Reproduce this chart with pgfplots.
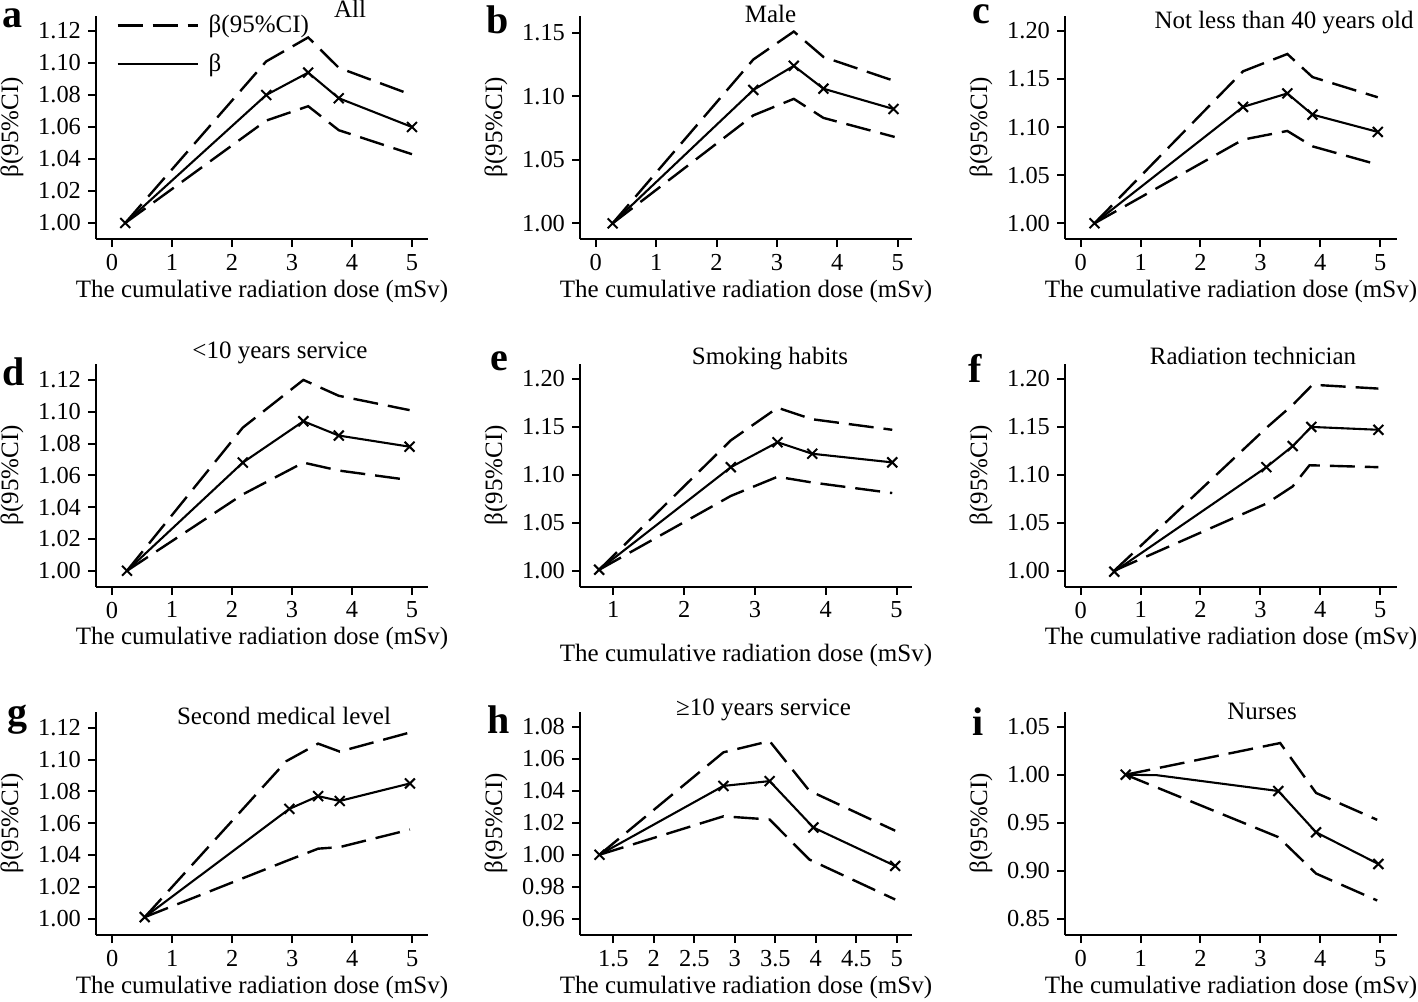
\documentclass[border=0pt]{standalone}
\usepackage{fontspec}
\setmainfont{Liberation Serif}
\usepackage{pgfplots}
\pgfplotsset{compat=1.18}

\pgfplotsset{
  panel/.style={
    width=166pt, height=111.6pt, scale only axis,
    anchor=south west,
    axis x line=bottom, axis y line=left,
    axis line style={-, line width=1pt},
    tick align=outside, major tick length=4pt,
    tick style={black, line width=1pt},
    tick label style={font=\fontsize{12.2}{14}\selectfont},
    /pgf/number format/assume math mode=true,
    yticklabel={\pgfmathprintnumber[fixed,fixed zerofill,precision=2]{\tick}},
    label style={font=\fontsize{12.5}{15}\selectfont},
    xlabel={The cumulative radiation dose (mSv)},
    ylabel={β(95\%CI)},
    xlabel style={at={(axis description cs:0.5,-0.233)}, anchor=center},
    ylabel style={at={(axis description cs:-0.253,0.5)}, anchor=center},
    clip=false,
  },
  ci/.style={black, line width=1.2pt, dash pattern=on 12.5pt off 5pt, mark=none},
  est/.style={black, line width=1.05pt, mark=x, mark size=3.5pt, mark options={solid, line width=1pt}},
}

\begin{document}
\begin{tikzpicture}
% ---------- a: All ----------
\begin{axis}[panel, at={(48pt,-119.5pt)},
  xmin=-0.267, xmax=5.267, ymin=0.99, ymax=1.1295,
  xtick={0,1,2,3,4,5}, ytick={1,1.02,1.04,1.06,1.08,1.10,1.12},
  legend style={draw=none, fill=none, at={(axis description cs:0.06,1.022)}, anchor=north west,
    font=\fontsize{12.5}{15}\selectfont, row sep=5pt, column sep=3pt, inner sep=0pt,
    nodes={inner sep=2pt}},
  legend image code/.code={\draw[#1] (0pt,0pt) -- (40pt,0pt);},
  legend cell align=left]
\addplot[ci] coordinates {(0.22,1.000) (2.57,1.101) (3.27,1.116) (3.78,1.097) (5.00,1.080)};
\addlegendentry{β(95\%CI)}
\addplot[ci, forget plot] coordinates {(0.22,1.000) (2.57,1.064) (3.27,1.073) (3.78,1.058) (5.00,1.043)};
\addplot[est] coordinates {(0.22,1.000) (2.57,1.080) (3.27,1.094) (3.78,1.078) (5.00,1.060)};
\addlegendentry{β}
\end{axis}
% ---------- b: Male ----------
\begin{axis}[panel, at={(290pt,-119.5pt)},
  xmin=-0.26, xmax=5.237, ymin=0.98764, ymax=1.16339,
  xtick={0,1,2,3,4,5}, ytick={1,1.05,1.10,1.15}]
\addplot[ci] coordinates {(0.28,1.000) (2.61,1.129) (3.28,1.151) (3.77,1.131) (4.95,1.112)};
\addplot[ci] coordinates {(0.28,1.000) (2.61,1.085) (3.28,1.098) (3.77,1.083) (4.95,1.068)};
\addplot[est] coordinates {(0.28,1.000) (2.61,1.105) (3.28,1.124) (3.77,1.106) (4.93,1.090)};
\end{axis}
% ---------- c: Not less than 40 ----------
\begin{axis}[panel, at={(532.5pt,-119.5pt)},
  xmin=-0.262, xmax=5.281, ymin=0.98368, ymax=1.2157,
  xtick={0,1,2,3,4,5}, ytick={1,1.05,1.10,1.15,1.20}]
\addplot[ci] coordinates {(0.23,1.000) (2.71,1.158) (3.45,1.176) (3.87,1.152) (4.96,1.131)};
\addplot[ci] coordinates {(0.23,1.000) (2.71,1.087) (3.45,1.096) (3.87,1.080) (4.96,1.061)};
\addplot[est] coordinates {(0.23,1.000) (2.71,1.121) (3.45,1.135) (3.87,1.113) (4.96,1.095)};
\end{axis}
% ---------- d: <10 years service ----------
\begin{axis}[panel, at={(48pt,-293.35pt)},
  xmin=-0.267, xmax=5.267, ymin=0.98994, ymax=1.13032,
  xtick={0,1,2,3,4,5}, ytick={1,1.02,1.04,1.06,1.08,1.10,1.12}]
\addplot[ci] coordinates {(0.25,1.000) (2.18,1.090) (3.19,1.120) (3.78,1.110) (4.96,1.101)};
\addplot[ci] coordinates {(0.25,1.000) (2.18,1.048) (3.19,1.068) (3.78,1.063) (4.96,1.057)};
\addplot[est] coordinates {(0.25,1.000) (2.18,1.068) (3.19,1.094) (3.78,1.085) (4.96,1.078)};
\end{axis}
% ---------- e: Smoking habits ----------
\begin{axis}[panel, at={(290pt,-293.35pt)},
  xmin=0.5297, xmax=5.219, ymin=0.9833, ymax=1.21616,
  xtick={1,2,3,4,5}, ytick={1,1.05,1.10,1.15,1.20},
  xlabel style={at={(axis description cs:0.5,-0.309)}, anchor=center}]
\addplot[ci] coordinates {(0.80,1.001) (2.66,1.136) (3.32,1.170) (3.81,1.158) (4.94,1.147)};
\addplot[ci] coordinates {(0.80,1.001) (2.66,1.078) (3.32,1.098) (3.81,1.092) (4.94,1.081)};
\addplot[est] coordinates {(0.80,1.001) (2.66,1.108) (3.32,1.134) (3.81,1.122) (4.94,1.113)};
\end{axis}
% ---------- f: Radiation technician ----------
\begin{axis}[panel, at={(532.5pt,-293.35pt)},
  xmin=-0.262, xmax=5.281, ymin=0.9833, ymax=1.21616,
  xtick={0,1,2,3,4,5}, ytick={1,1.05,1.10,1.15,1.20}]
\addplot[ci] coordinates {(0.56,1.000) (3.10,1.149) (3.54,1.173) (3.87,1.194) (4.97,1.190)};
\addplot[ci] coordinates {(0.56,1.000) (3.10,1.070) (3.54,1.088) (3.82,1.110) (4.97,1.108)};
\addplot[est] coordinates {(0.56,0.999) (3.10,1.108) (3.54,1.130) (3.85,1.150) (4.97,1.147)};
\end{axis}
% ---------- g: Second medical level ----------
\begin{axis}[panel, at={(48pt,-467.5pt)},
  xmin=-0.272, xmax=5.261, ymin=0.98976, ymax=1.12999,
  xtick={0,1,2,3,4,5}, ytick={1,1.02,1.04,1.06,1.08,1.10,1.12}]
\addplot[ci] coordinates {(0.54,1.001) (2.90,1.099) (3.43,1.110) (3.79,1.105) (4.96,1.117)};
\addplot[ci] coordinates {(0.54,1.001) (2.95,1.037) (3.43,1.044) (3.79,1.045) (4.96,1.056)};
\addplot[est] coordinates {(0.54,1.001) (2.95,1.069) (3.43,1.077) (3.79,1.074) (4.96,1.085)};
\end{axis}
% ---------- h: >=10 years service ----------
\begin{axis}[panel, at={(290pt,-467.5pt)},
  xmin=1.0889, xmax=5.1877, ymin=0.94981, ymax=1.08931,
  xtick={1.5,2,2.5,3,3.5,4,4.5,5}, ytick={0.96,0.98,1,1.02,1.04,1.06,1.08}]
\addplot[ci] coordinates {(1.33,1.000) (2.86,1.064) (3.43,1.071) (3.92,1.040) (4.98,1.015)};
\addplot[ci] coordinates {(1.33,1.000) (2.86,1.024) (3.43,1.022) (3.92,0.997) (4.98,0.972)};
\addplot[est] coordinates {(1.33,1.000) (2.86,1.043) (3.43,1.046) (3.97,1.017) (4.98,0.993)};
\end{axis}
% ---------- i: Nurses ----------
\begin{axis}[panel, at={(532.5pt,-467.5pt)},
  xmin=-0.262, xmax=5.281, ymin=0.83302, ymax=1.06552,
  xtick={0,1,2,3,4,5}, ytick={0.85,0.90,0.95,1,1.05}]
\addplot[ci] coordinates {(0.75,1.000) (3.33,1.033) (3.93,0.981) (4.95,0.953)};
\addplot[ci] coordinates {(0.75,1.000) (3.30,0.935) (3.93,0.897) (4.95,0.869)};
\addplot[est, mark indices={1,3,4,5}] coordinates {(0.75,1.000) (1.27,0.9995) (3.30,0.983) (3.93,0.940) (4.97,0.907)};
\end{axis}

% ---------- titles ----------
\begin{scope}[every node/.style={anchor=base, inner sep=0pt, font=\fontsize{12.5}{15}\selectfont}]
\node at (175pt,-8.8pt) {All};
\node at (385.25pt,-11.35pt) {Male};
\node at (642pt,-14.15pt) {Not less than 40 years old};
\node at (140pt,-179pt) {<10 years service};
\node at (385pt,-182pt) {Smoking habits};
\node at (626.5pt,-182pt) {Radiation technician};
\node at (142pt,-362pt) {Second medical level};
\node at (381.75pt,-357.5pt) {≥10 years service};
\node at (631pt,-359.5pt) {Nurses};
\end{scope}
% ---------- panel letters ----------
\begin{scope}[every node/.style={anchor=base west, inner sep=0pt, font=\fontsize{20}{24}\selectfont\bfseries}]
\node at (1pt,-13.6pt) {a};
\node at (243pt,-16.5pt) {b};
\node at (486pt,-12pt) {c};
\node at (1pt,-192.5pt) {d};
\node at (245pt,-185pt) {e};
\node at (484pt,-191pt) {f};
\node at (3.5pt,-362.5pt) {g};
\node at (243.5pt,-366.5pt) {h};
\node at (486pt,-367.5pt) {i};
\end{scope}

\pgfresetboundingbox
\path[use as bounding box] (0pt,0pt) rectangle (709pt,-500.5pt);
\end{tikzpicture}
\end{document}
